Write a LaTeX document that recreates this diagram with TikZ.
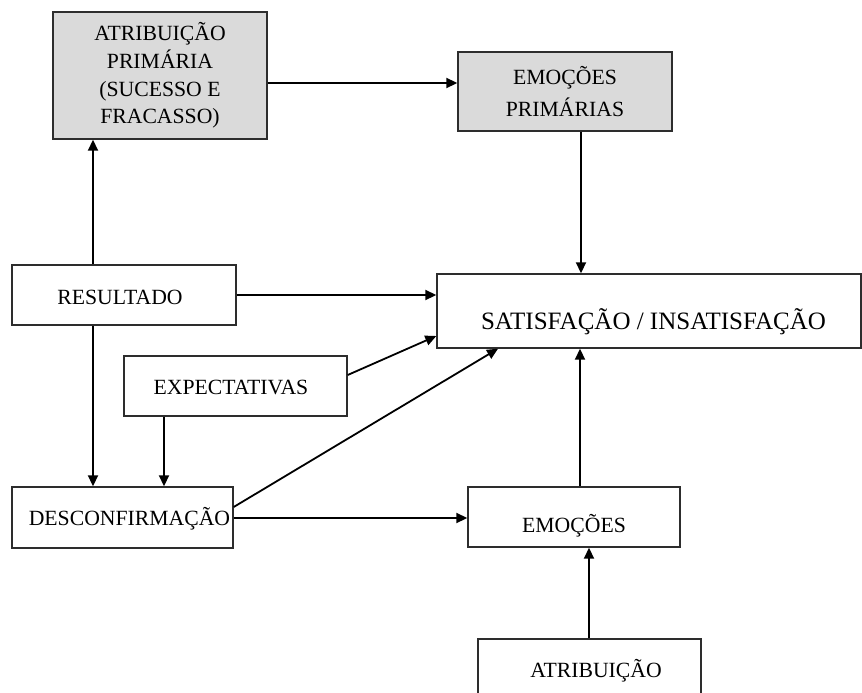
\documentclass[tikz,border=0pt]{standalone}
\usepackage{fontspec}
\setmainfont{Liberation Serif}
\usetikzlibrary{arrows.meta}
\definecolor{boxgray}{RGB}{218,218,218}
\definecolor{edgegray}{RGB}{45,45,45}
\begin{document}
\begin{tikzpicture}[x=1pt,y=-1pt,
  box/.style={draw=edgegray,line width=1.4pt,rectangle,inner sep=0pt,
    align=center,font=\fontsize{21.7}{27.8}\selectfont},
  shaded/.style={box,fill=boxgray},
  arr/.style={line width=1.8pt,-{Triangle[length=11pt,width=10pt]}}]
\clip (0,0) rectangle (862,693);

% boxes
\node[shaded,minimum width=214pt,minimum height=127pt] (aprim) at (160,75.5)
  {ATRIBUIÇÃO\\PRIMÁRIA\\(SUCESSO E\\FRACASSO)};
\node[shaded,minimum width=214pt,minimum height=79pt,
  font=\fontsize{21.7}{32}\selectfont] (eprim) at (565,91.5)
  {EMOÇÕES\\PRIMÁRIAS};
\node[box,minimum width=424pt,minimum height=74pt] (sat) at (649,311) {};
\node[font=\fontsize{25}{28}\selectfont,inner sep=0pt] (sattext) at (653.5,322)
  {SATISFAÇÃO / INSATISFAÇÃO};
\node[box,minimum width=224pt,minimum height=60pt] (res) at (124,295) {};
\node[font=\fontsize{21.7}{25}\selectfont,inner sep=0pt] (restext) at (120,297)
  {RESULTADO};
\node[box,minimum width=223pt,minimum height=60pt] (expe) at (235.5,386) {};
\node[font=\fontsize{21.7}{25}\selectfont,inner sep=0pt] (expetext) at (231,387)
  {EXPECTATIVAS};
\node[box,minimum width=221pt,minimum height=61pt] (desc) at (122.5,517.5) {};
\node[font=\fontsize{21.7}{25}\selectfont,inner sep=0pt] (desctext) at (129.5,519)
  {DESCONFIRMAÇÃO};
\node[box,minimum width=212pt,minimum height=60pt] (emo) at (574,517) {};
\node[font=\fontsize{21.7}{25}\selectfont,inner sep=0pt] (emotext) at (574,526)
  {EMOÇÕES};
\node[box,minimum width=223pt,minimum height=64pt] (atr) at (589.5,671) {};
\node[font=\fontsize{21.7}{25}\selectfont,inner sep=0pt] (atrtext) at (596,671)
  {ATRIBUIÇÃO};

% connectors
\draw[arr] (aprim.east |- 0,83) -- (eprim.west |- 0,83);
\draw[arr] (eprim.south -| 581,0) -- (sat.north -| 581,0);
\draw[arr] (res.north -| 93,0) -- (aprim.south -| 93,0);
\draw[arr] (res.east) -- (sat.west |- res.east);
\draw[arr] (res.south -| 93,0) -- (desc.north -| 93,0);
\draw[arr] (expe.south -| 164,0) -- (desc.north -| 164,0);
\draw[arr] (expe.east |- 0,375) -- (sat.west |- 0,336);
\draw[arr] (desc.east |- 0,507) -- (sat.south -| 498,0);
\draw[arr] (desc.east |- 0,518) -- (emo.west |- 0,518);
\draw[arr] (emo.north -| 580,0) -- (sat.south -| 580,0);
\draw[arr] (atr.north -| 589,0) -- (emo.south -| 589,0);
\end{tikzpicture}
\end{document}
